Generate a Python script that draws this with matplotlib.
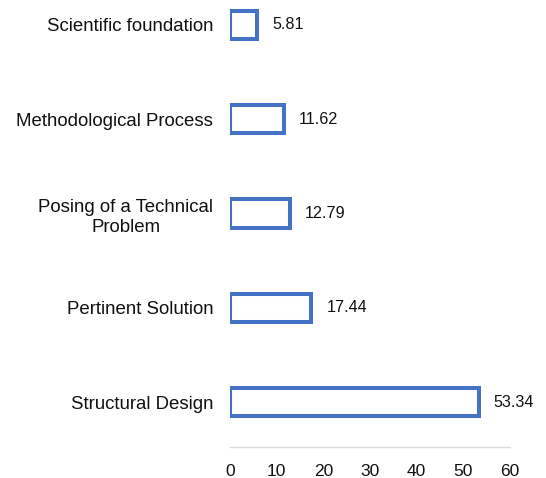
import matplotlib
matplotlib.use("Agg")
import matplotlib.pyplot as plt

categories = ["Structural Design", "Pertinent Solution", "Posing of a Technical\nProblem",
              "Methodological Process", "Scientific foundation"]
values = [53.34, 17.44, 12.79, 11.62, 5.81]
xticks = [0, 10, 20, 30, 40, 50, 60]

plt.rcParams['font.family'] = ['Liberation Sans', 'DejaVu Sans']

fig = plt.figure(figsize=(5.46, 4.78), dpi=100)
ax = fig.add_axes([230 / 546, 31 / 478, 280 / 546, 447 / 478])

ypos = range(len(categories))
ax.barh(ypos, values, height=0.3, color="white", edgecolor="#4472C4", linewidth=2.9)

# value labels to the right of each bar
for y, v in zip(ypos, values):
    ax.text(v + 3.2, y, "{:.2f}".format(v), va="center", ha="left", fontsize=11.6, color="#111111")

ax.set_yticks(list(ypos))
ax.set_yticklabels(categories, fontsize=13.4, color="#111111")
ax.set_xticks(xticks)
ax.set_xticklabels([str(t) for t in xticks], fontsize=12.5, color="#111111")
ax.set_xlim(0, 60)
ax.set_ylim(-0.476, 4.265)

for s in ["top", "right", "left"]:
    ax.spines[s].set_visible(False)
ax.spines["bottom"].set_color("#d9d9d9")
ax.spines["bottom"].set_linewidth(1)
ax.tick_params(axis="both", length=0)
ax.tick_params(axis="x", pad=12)
ax.tick_params(axis="y", pad=12)
for lab in ax.get_yticklabels():
    lab.set_multialignment("center")
    lab.set_linespacing(1.3)

fig.savefig("out.png", dpi=100)
